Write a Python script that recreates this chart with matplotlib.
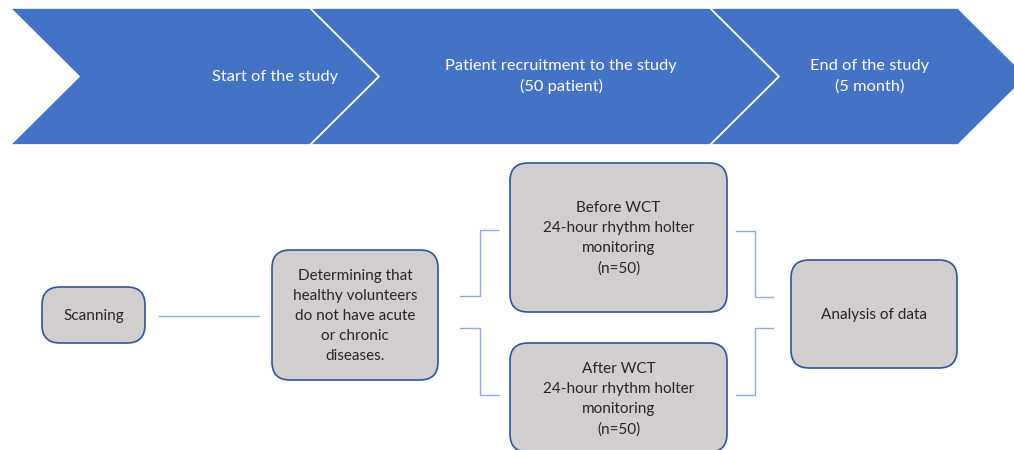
import matplotlib
matplotlib.use('Agg')
import matplotlib.pyplot as plt
from matplotlib.patches import Polygon, FancyBboxPatch

# texts
stages = ['Start of the study',
          'Patient recruitment to the study\n(50 patient)',
          'End of the study\n(5 month)']
steps = ['Scanning',
         'Determining that\nhealthy volunteers\ndo not have acute\nor chronic\ndiseases.',
         'Before WCT\n24-hour rhythm holter\nmonitoring\n(n=50)',
         'After WCT\n24-hour rhythm holter\nmonitoring\n(n=50)',
         'Analysis of data']

plt.rcParams['font.family'] = ['Lato', 'DejaVu Sans']

blue = '#4472C4'
box_fill = '#D0CECE'
box_edge = '#2F5597'
line_col = '#8FAADC'
txt_col = '#262626'

fig = plt.figure(figsize=(10.14, 4.5), dpi=100)
ax = fig.add_axes([0, 0, 1, 1])
ax.set_xlim(0, 1014)
ax.set_ylim(450, 0)
ax.axis('off')

# chevrons (left x, right x, text centre x)
top, bot, mid = 8, 145, 76.5
depth = 69
chev = [(10, 310, 275), (310, 710, 561), (710, 958, 870)]
for (x0, x1, tx), label in zip(chev, stages):
    pts = [(x0, top), (x1, top), (x1 + depth, mid), (x1, bot), (x0, bot), (x0 + depth, mid)]
    ax.add_patch(Polygon(pts, closed=True, facecolor=blue, edgecolor='white', lw=1.2))
    ax.text(tx, mid, label, color='white', fontsize=11.8, ha='center', va='center',
            linespacing=1.55)

# rounded boxes (x0, y0, x1, y1)
boxes = [(42, 287, 145, 343), (272, 250, 438, 380), (510, 163, 727, 312),
         (510, 343, 727, 452), (791, 260, 957, 368)]
for (x0, y0, x1, y1), label in zip(boxes, steps):
    ax.add_patch(FancyBboxPatch((x0, y0), x1 - x0, y1 - y0,
                                boxstyle='round,pad=0,rounding_size=18',
                                facecolor=box_fill, edgecolor=box_edge, lw=1.2))
    cy = (y0 + y1) / 2 + 1
    if label.startswith('After'):
        cy = 399
    ax.text((x0 + x1) / 2, cy, label, color=txt_col, fontsize=11, ha='center',
            va='center', linespacing=1.55)

# connectors
lines = [
    ([159, 259], [316, 316]),
    ([460, 480, 480, 498], [296, 296, 230, 230]),
    ([460, 480, 480, 499], [328, 328, 395, 395]),
    ([736, 755, 755, 773], [231, 231, 297, 297]),
    ([736, 755, 755, 773], [395, 395, 328, 328]),
]
for xs, ys in lines:
    ax.plot(xs, ys, color=line_col, lw=1)

fig.savefig('out.png', dpi=100)
